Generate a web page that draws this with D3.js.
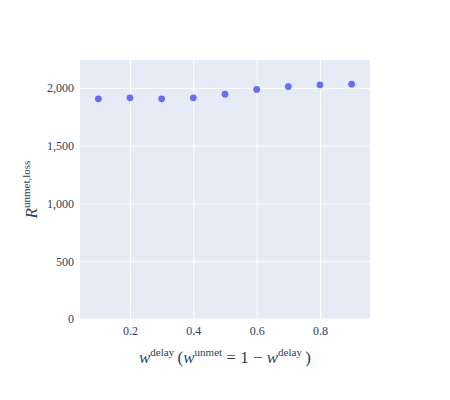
<!DOCTYPE html>
<html><head><meta charset="utf-8">
<script src="https://cdn.jsdelivr.net/npm/d3@7"></script>
<style>body{margin:0;background:#fff}svg{display:block}</style>
</head><body><div id="chart"></div>
<script>
const wDelay = [0.1,0.2,0.3,0.4,0.5,0.6,0.7,0.8,0.9];
const rLoss = [1905,1914,1905,1914,1945,1986,2011,2026,2032];
const xTicks = [0.2,0.4,0.6,0.8];
const yTicks = [0,500,1000,1500,2000];

const W=450,H=400,m={l:80,r:80,t:60,b:81};
const svg=d3.select('#chart').append('svg').attr('width',W).attr('height',H);
const x=d3.scaleLinear().domain([0.042,0.958]).range([m.l,W-m.r]);
const y=d3.scaleLinear().domain([0,2241]).range([H-m.b,m.t]);
const font='"Liberation Serif", "Times New Roman", serif';
const col='#2a3f5f';

svg.append('rect').attr('x',m.l).attr('y',m.t).attr('width',W-m.l-m.r).attr('height',H-m.t-m.b).attr('fill','#e5ecf6');

const xa=svg.append('g').attr('transform',`translate(0,${H-m.b})`)
 .call(d3.axisBottom(x).tickValues(xTicks).tickSize(-(H-m.t-m.b)).tickFormat(d3.format('.1f')).tickPadding(7));
const ya=svg.append('g').attr('transform',`translate(${m.l},0)`)
 .call(d3.axisLeft(y).tickValues(yTicks).tickSize(-(W-m.l-m.r)).tickFormat(d3.format(',')).tickPadding(6));
[xa,ya].forEach(a=>{
 a.select('.domain').remove();
 a.selectAll('.tick line').attr('stroke','#fff').attr('stroke-width',1);
 a.selectAll('.tick text').attr('fill',col).attr('font-family',font).attr('font-size',12);
});
ya.selectAll('.tick').filter(d=>d===0).select('line').attr('stroke-width',2);

svg.append('g').selectAll('circle').data(wDelay).join('circle')
 .attr('cx',(d)=>x(d)).attr('cy',(d,i)=>y(rLoss[i])).attr('r',3.4).attr('fill','#636efa');

// x title
const xt=svg.append('text').attr('x',(m.l+W-m.r)/2).attr('y',363).attr('text-anchor','middle')
 .attr('font-family',font).attr('font-size',17).attr('fill',col);
xt.append('tspan').attr('font-style','italic').text('w');
xt.append('tspan').attr('font-size',11).attr('dy',-7).text('delay');
xt.append('tspan').attr('dy',7).text('\u2009(');
xt.append('tspan').attr('font-style','italic').text('w');
xt.append('tspan').attr('font-size',11).attr('dy',-7).text('unmet');
xt.append('tspan').attr('dy',7).text(' = 1 \u2212 ');
xt.append('tspan').attr('font-style','italic').text('w');
xt.append('tspan').attr('font-size',11).attr('dy',-7).text('delay');
xt.append('tspan').attr('dy',7).text('\u2009)');

// y title
const yt=svg.append('text').attr('transform',`translate(37,${(m.t+H-m.b)/2}) rotate(-90)`).attr('text-anchor','middle')
 .attr('font-family',font).attr('font-size',17).attr('fill',col);
yt.append('tspan').attr('font-style','italic').text('R');
yt.append('tspan').attr('font-size',11).attr('dy',-7).text('unmet,loss');
</script></body></html>
